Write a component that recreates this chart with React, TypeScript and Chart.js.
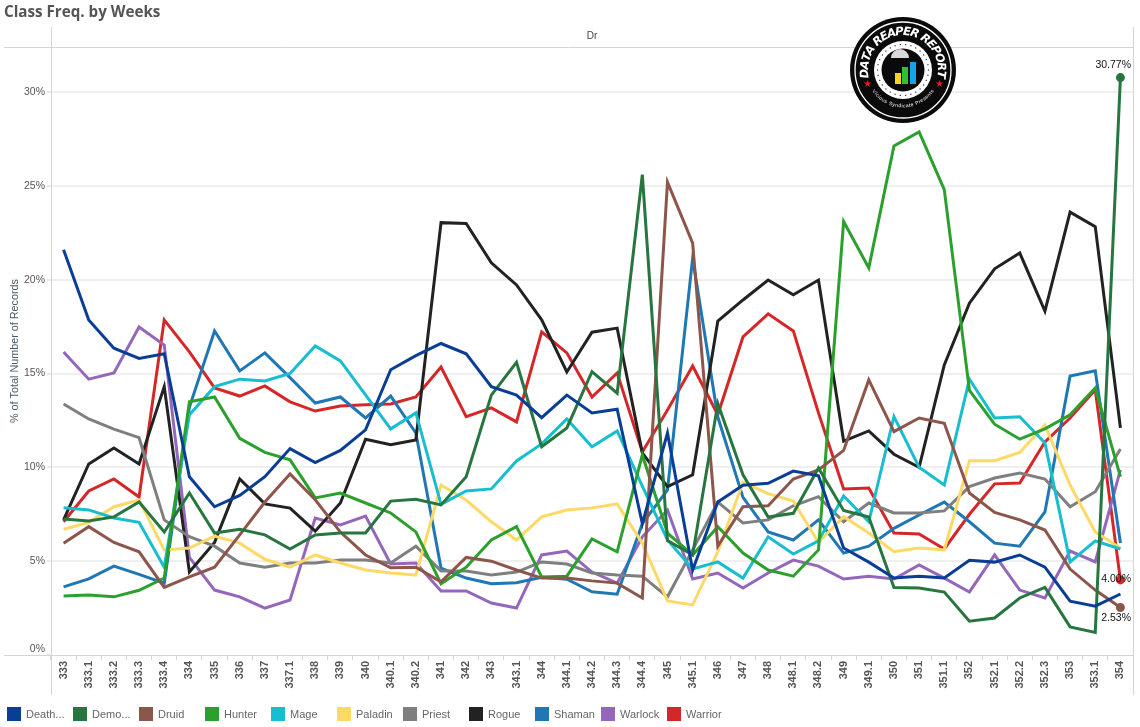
import React, { useEffect, useRef } from "react";
import { Chart, registerables } from "chart.js";

Chart.register(...registerables);

const weeks = [
	"333", "333.1", "333.2", "333.3", "333.4", "334", "335", "336", "337", "337.1", "338",
	"339", "340", "340.1", "340.2", "341", "342", "343", "343.1", "344", "344.1", "344.2",
	"344.3", "344.4", "345", "345.1", "346", "347", "348", "348.1", "348.2", "349", "349.1",
	"350", "351", "351.1", "352", "352.1", "352.2", "352.3", "353", "353.1", "354",
];

const deathKnight = [21.6, 17.85, 16.35, 15.8, 16.05, 9.5, 7.9, 8.5, 9.5, 11.0, 10.25, 10.9, 12.0, 15.2, 15.95, 16.6, 16.05, 14.3, 13.85, 12.65, 13.85, 12.9, 13.1, 7.0, 11.83, 4.53, 8.15, 9.05, 9.15, 9.8, 9.55, 5.7, 4.95, 4.1, 4.2, 4.1, 5.05, 4.95, 5.33, 4.68, 2.87, 2.6, 3.25];
const demonHunter = [7.25, 7.14, 7.36, 8.15, 6.55, 8.63, 6.5, 6.7, 6.4, 5.65, 6.4, 6.5, 6.5, 8.2, 8.3, 8.0, 9.5, 13.85, 15.6, 11.1, 12.1, 15.1, 13.95, 25.6, 6.1, 5.33, 13.4, 9.6, 7.35, 7.55, 9.97, 7.7, 7.35, 3.6, 3.57, 3.35, 1.8, 1.97, 3.04, 3.6, 1.5, 1.2, 30.77];
const druid = [5.96, 6.84, 6.0, 5.5, 3.6, 4.16, 4.68, 6.4, 8.15, 9.65, 8.27, 6.55, 5.33, 4.65, 4.68, 3.9, 5.2, 5.0, 4.53, 4.1, 4.1, 3.95, 3.83, 3.04, 25.2, 21.95, 5.8, 7.9, 7.95, 9.38, 9.86, 10.9, 14.66, 11.9, 12.63, 12.35, 8.63, 7.6, 7.2, 6.66, 4.58, 3.46, 2.53];
const hunter = [3.15, 3.2, 3.1, 3.45, 4.1, 13.5, 13.75, 11.55, 10.8, 10.4, 8.37, 8.63, 8.1, 7.57, 6.56, 3.8, 4.68, 6.13, 6.84, 4.16, 4.2, 6.18, 5.5, 10.66, 6.5, 5.33, 6.83, 5.43, 4.53, 4.2, 5.6, 23.1, 20.63, 27.13, 27.88, 24.8, 14.1, 12.3, 11.5, 12.05, 12.8, 14.23, 9.5];
const mage = [7.85, 7.73, 7.3, 7.07, 4.68, 12.8, 14.3, 14.7, 14.6, 15.0, 16.47, 15.67, 13.86, 12.05, 12.9, 8.03, 8.74, 8.85, 10.34, 11.25, 12.58, 11.1, 11.94, 9.0, 6.13, 4.58, 4.96, 4.1, 6.3, 5.38, 6.08, 8.47, 7.1, 12.7, 10.0, 9.06, 14.7, 12.63, 12.7, 11.3, 4.96, 6.08, 5.65];
const paladin = [6.7, 7.07, 7.9, 8.26, 5.6, 5.7, 6.34, 5.96, 5.1, 4.68, 5.33, 4.9, 4.53, 4.37, 4.26, 9.06, 8.26, 7.1, 6.13, 7.36, 7.73, 7.84, 8.05, 5.96, 2.88, 2.67, 5.5, 9.2, 8.6, 8.2, 6.0, 7.37, 6.5, 5.5, 5.7, 5.6, 10.35, 10.35, 10.8, 12.26, 9.06, 6.56, 5.7];
const priest = [13.38, 12.58, 12.04, 11.58, 7.2, 6.3, 5.8, 4.9, 4.68, 4.9, 4.9, 5.06, 5.06, 4.9, 5.8, 4.48, 4.48, 4.26, 4.42, 4.96, 4.85, 4.37, 4.26, 4.2, 3.1, 5.6, 8.15, 7.04, 7.2, 7.95, 8.44, 7.1, 8.1, 7.57, 7.57, 7.68, 8.97, 9.43, 9.7, 9.38, 7.9, 8.7, 10.98];
const rogue = [7.2, 10.18, 11.03, 10.18, 14.3, 4.42, 6.0, 9.38, 8.05, 7.83, 6.6, 8.1, 11.5, 11.2, 11.46, 23.04, 23.0, 20.9, 19.72, 17.86, 15.08, 17.2, 17.42, 10.77, 8.97, 9.6, 17.8, 18.92, 19.98, 19.2, 19.98, 11.4, 11.94, 10.7, 10.0, 15.46, 18.75, 20.58, 21.42, 18.33, 23.6, 22.83, 12.1];
const shaman = [3.63, 4.06, 4.74, 4.3, 3.83, 13.2, 17.27, 15.14, 16.1, 14.78, 13.43, 13.75, 12.63, 13.8, 11.83, 4.63, 4.1, 3.8, 3.85, 4.14, 4.04, 3.37, 3.24, 7.0, 8.8, 21.15, 12.68, 8.4, 6.56, 6.13, 7.2, 5.43, 5.8, 6.75, 7.46, 8.15, 7.1, 5.96, 5.8, 7.62, 14.87, 15.14, 5.97];
const warlock = [16.15, 14.7, 15.03, 17.48, 16.52, 5.2, 3.46, 3.1, 2.5, 2.93, 7.3, 6.93, 7.4, 4.85, 4.9, 3.41, 3.41, 2.77, 2.5, 5.33, 5.54, 4.42, 3.83, 6.3, 7.73, 4.05, 4.37, 3.57, 4.37, 5.06, 4.74, 4.05, 4.2, 4.05, 4.8, 4.1, 3.36, 5.33, 3.46, 3.04, 5.54, 4.96, 9.86];
const warrior = [7.1, 8.74, 9.38, 8.42, 17.86, 16.15, 14.23, 13.8, 14.34, 13.49, 13.0, 13.27, 13.33, 13.38, 13.75, 15.35, 12.7, 13.17, 12.42, 17.22, 16.1, 13.75, 15.03, 10.82, 13.06, 15.4, 12.8, 16.95, 18.18, 17.27, 12.9, 8.85, 8.9, 6.5, 6.45, 5.65, 7.5, 9.12, 9.17, 11.35, 12.63, 14.13, 4.0];

const classNames = ["Death Knight", "Demon Hunter", "Druid", "Hunter", "Mage", "Paladin", "Priest", "Rogue", "Shaman", "Warlock", "Warrior"];
const legendNames = ["Death...", "Demo...", "Druid", "Hunter", "Mage", "Paladin", "Priest", "Rogue", "Shaman", "Warlock", "Warrior"];
const classValues = [deathKnight, demonHunter, druid, hunter, mage, paladin, priest, rogue, shaman, warlock, warrior];
const classColors = ["#0a3e94", "#27753f", "#8c564b", "#2ca02c", "#17becf", "#ffd966", "#7f7f7f", "#222222", "#1f77b4", "#9467bd", "#d62728"];

const yTicks = [0, 5, 10, 15, 20, 25, 30];
const labelledClasses = ["Demon Hunter", "Warrior", "Druid"];

const FONT = '"Liberation Sans", Arial, sans-serif';

function arcText(ctx: CanvasRenderingContext2D, text: string, cx: number, cy: number, r: number, mid: number, spread: number, inward: boolean) {
	const widths = [...text].map((c) => ctx.measureText(c).width);
	const total = widths.reduce((a, b) => a + b, 0);
	const extra = (Math.abs(spread) * r - total) / Math.max(text.length - 1, 1);
	let pos = -(total + extra * (text.length - 1)) / 2;
	[...text].forEach((c, i) => {
		const a = mid + ((pos + widths[i] / 2) / r) * (inward ? 1 : -1);
		ctx.save();
		ctx.translate(cx + r * Math.cos(a), cy + r * Math.sin(a));
		ctx.rotate(a + (inward ? Math.PI / 2 : -Math.PI / 2));
		ctx.fillText(c, 0, 0);
		ctx.restore();
		pos += widths[i] + extra;
	});
}

// badge in the top right of the plot
function drawLogo(ctx: CanvasRenderingContext2D) {
	const cx = 903;
	const cy = 70;
	ctx.save();
	ctx.fillStyle = "#0a0a0a";
	ctx.beginPath();
	ctx.arc(cx, cy, 53, 0, Math.PI * 2);
	ctx.fill();
	ctx.strokeStyle = "#fff";
	ctx.lineWidth = 1.3;
	ctx.beginPath();
	ctx.arc(cx, cy, 48, 0, Math.PI * 2);
	ctx.stroke();

	ctx.fillStyle = "#fff";
	ctx.beginPath();
	ctx.arc(cx, cy, 29, 0, Math.PI * 2);
	ctx.fill();
	ctx.fillStyle = "#0a0a0a";
	ctx.beginPath();
	ctx.arc(cx, cy, 21.5, 0, Math.PI * 2);
	ctx.fill();
	ctx.fillStyle = "#333";
	for (let i = 0; i < 30; i++) {
		const a = (i / 30) * Math.PI * 2;
		ctx.fillRect(cx + 25.5 * Math.cos(a) - 0.6, cy + 25.5 * Math.sin(a) - 0.6, 1.2, 1.2);
	}

	ctx.fillStyle = "#d9d9d9";
	ctx.beginPath();
	ctx.arc(cx - 3, cy - 12, 9, Math.PI, 0);
	ctx.fill();
	ctx.fillStyle = "#ffd21f";
	ctx.fillRect(cx - 8, cy + 3, 6, 11);
	ctx.fillStyle = "#2fc22f";
	ctx.fillRect(cx - 1, cy - 3, 6, 17);
	ctx.fillStyle = "#12a5ea";
	ctx.fillRect(cx + 7, cy - 8, 6, 22);

	ctx.fillStyle = "#fff";
	ctx.font = 'italic bold 11.5px "DejaVu Sans"';
	ctx.textAlign = "center";
	ctx.textBaseline = "middle";
	arcText(ctx, "DATA REAPER REPORT", cx, cy, 38, -Math.PI / 2, Math.PI * 1.14, true);
	ctx.font = "5px " + FONT;
	arcText(ctx, "Vicious Syndicate Presents", cx, cy, 36, Math.PI / 2, Math.PI * 0.62, false);

	ctx.fillStyle = "#e01b24";
	ctx.font = "10px " + FONT;
	ctx.fillText("\u2605", cx - 36, cy + 14);
	ctx.fillText("\u2605", cx + 36, cy + 14);
	ctx.restore();
}

const framePlugin = {
	id: "frame",
	beforeDatasetsDraw(chart: any) {
		const { ctx, chartArea } = chart;
		ctx.save();
		ctx.strokeStyle = "#d4d4d4";
		ctx.lineWidth = 1;
		ctx.beginPath();
		ctx.moveTo(4, chartArea.top + 0.5);
		ctx.lineTo(chartArea.right, chartArea.top + 0.5);
		ctx.moveTo(4, chartArea.bottom + 0.5);
		ctx.lineTo(chartArea.right, chartArea.bottom + 0.5);
		ctx.moveTo(chartArea.left + 0.5, 27);
		ctx.lineTo(chartArea.left + 0.5, 695);
		ctx.moveTo(chartArea.right + 0.5, 27);
		ctx.lineTo(chartArea.right + 0.5, 695);
		ctx.stroke();
		ctx.fillStyle = "#444";
		ctx.font = "10px " + FONT;
		ctx.textAlign = "center";
		ctx.textBaseline = "middle";
		ctx.fillText("Dr", (chartArea.left + chartArea.right) / 2, 36);
		ctx.restore();
	},
	afterDraw(chart: any) {
		const { ctx } = chart;
		drawLogo(ctx);

		// last-week value labels
		ctx.save();
		ctx.fillStyle = "#111";
		ctx.font = "10.5px " + FONT;
		ctx.textAlign = "right";
		ctx.textBaseline = "middle";
		labelledClasses.forEach((name) => {
			const idx = classNames.indexOf(name);
			const pt = chart.getDatasetMeta(idx).data[weeks.length - 1];
			const dy = name === "Demon Hunter" ? -12 : name === "Druid" ? 11 : -1;
			ctx.fillText(classValues[idx][weeks.length - 1].toFixed(2) + "%", 1131, pt.y + dy);
		});

		// legend row
		ctx.font = "11px " + FONT;
		ctx.textAlign = "left";
		legendNames.forEach((name, i) => {
			ctx.fillStyle = classColors[i];
			ctx.fillRect(7 + i * 66, 707, 14, 14);
			ctx.fillStyle = "#666";
			ctx.fillText(name, 26 + i * 66, 715);
		});
		ctx.restore();
	},
};

export default function App() {
	const canvasRef = useRef<HTMLCanvasElement | null>(null);

	useEffect(() => {
		document.body.style.margin = "0";
		if (!canvasRef.current) return;

		const chart = new Chart(canvasRef.current, {
			type: "line",
			data: {
				labels: weeks,
				datasets: classNames.map((name, i) => ({
					label: name,
					data: classValues[i],
					borderColor: classColors[i],
					backgroundColor: classColors[i],
					borderWidth: 3,
					tension: 0,
					pointRadius: weeks.map((_, j) => (j === weeks.length - 1 && labelledClasses.includes(name) ? 3 : 0)),
				})),
			},
			options: {
				responsive: false,
				animation: false,
				events: [],
				layout: { padding: { left: 4, right: 7, top: 0, bottom: 32 } },
				plugins: {
					legend: { display: false },
					tooltip: { enabled: false },
					title: {
						display: true,
						text: "Class Freq. by Weeks",
						align: "start",
						color: "#555",
						font: { family: '"Open Sans"', size: 15.2, weight: "bold", lineHeight: 1.2 },
						padding: { top: 4, bottom: 24.76 },
					},
				},
				scales: {
					x: {
						offset: true,
						afterFit: (scale: any) => {
							scale.height = 40;
						},
						border: { display: false },
						grid: { offset: true, drawOnChartArea: false, drawTicks: true, tickLength: 5, color: "#d4d4d4" },
						ticks: {
							autoSkip: false,
							minRotation: 90,
							maxRotation: 90,
							color: "#555",
							padding: 1,
							font: { family: FONT, size: 11, weight: "bold" },
						},
					},
					y: {
						min: 0,
						max: 32.4,
						afterFit: (scale: any) => {
							scale.width = 47;
						},
						afterBuildTicks: (scale: any) => {
							scale.ticks = yTicks.map((value) => ({ value }));
						},
						title: {
							display: true,
							text: "% of Total Number of Records",
							color: "#4a5a66",
							padding: { top: 5, bottom: 0 },
							font: { family: FONT, size: 10.8 },
						},
						border: { display: false },
						grid: {
							color: (c: any) => (c.tick && c.tick.value === 0 ? "rgba(0,0,0,0)" : "#efefef"),
							lineWidth: 2,
							tickColor: "#d4d4d4",
							tickWidth: 1,
							tickLength: 4,
						},
						ticks: {
							color: "#555",
							padding: 2,
							font: { family: FONT, size: 10.5 },
							callback: (v: any) => (v === 0 ? ["0%", ""] : v + "%"),
						},
					},
				},
			},
			plugins: [framePlugin],
		} as any);

		return () => {
			chart.destroy();
		};
	}, []);

	return <canvas ref={canvasRef} width={1140} height={727} style={{ display: "block" }} />;
}
